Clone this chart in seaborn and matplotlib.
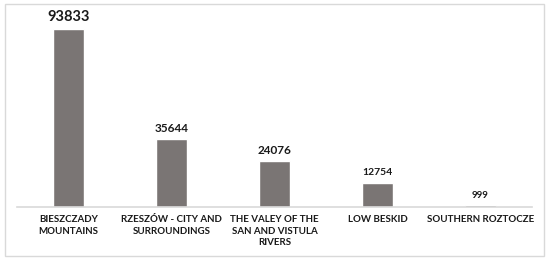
import matplotlib
matplotlib.use("Agg")
import matplotlib.pyplot as plt
import seaborn as sns
import pandas as pd
from matplotlib.patches import Rectangle

regions = ["BIESZCZADY\nMOUNTAINS", "RZESZÓW - CITY AND\nSURROUNDINGS",
           "THE VALEY OF THE\nSAN AND VISTULA\nRIVERS", "LOW BESKID",
           "SOUTHERN ROZTOCZE"]
visitors = [93833, 35644, 24076, 12754, 999]
label_sizes = [10.5, 8.5, 8.5, 7.5, 7]

df = pd.DataFrame({"region": regions, "visitors": visitors})

sns.set_style("white")
plt.rcParams["font.family"] = ["Lato", "DejaVu Sans"]

fig = plt.figure(figsize=(5.5, 2.65), dpi=100)
ax = fig.add_axes([17 / 550, 58 / 265, 515 / 550, 197 / 265])

sns.barplot(data=df, x="region", y="visitors", color="#7a7574",
            saturation=1, width=0.31, ax=ax)

for p, v, s in zip(ax.patches, visitors, label_sizes):
    ax.annotate(str(v), (p.get_x() + p.get_width() / 2, p.get_height()),
                xytext=(0, 4), textcoords="offset points",
                ha="center", va="bottom", fontsize=s, fontweight="bold",
                color="#1a1a1a")

ax.set_ylim(0, 104000)
ax.set_xlim(-0.5, 4.5)
ax.set_xlabel("")
ax.set_ylabel("")
ax.set_yticks([])
ax.tick_params(axis="x", length=0, pad=6, labelsize=7, colors="#1a1a1a")
for lbl in ax.get_xticklabels():
    lbl.set_fontweight("bold")
    lbl.set_linespacing(1.35)
for side in ["top", "left", "right"]:
    ax.spines[side].set_visible(False)
ax.spines["bottom"].set_color("#d9d9d9")
ax.spines["bottom"].set_linewidth(1.2)

fig.patches.append(Rectangle((5 / 550, 9 / 265), 539 / 550, 252 / 265,
                             transform=fig.transFigure, fill=False,
                             edgecolor="#d9d9d9", linewidth=1))

fig.savefig("out.png", dpi=100)
